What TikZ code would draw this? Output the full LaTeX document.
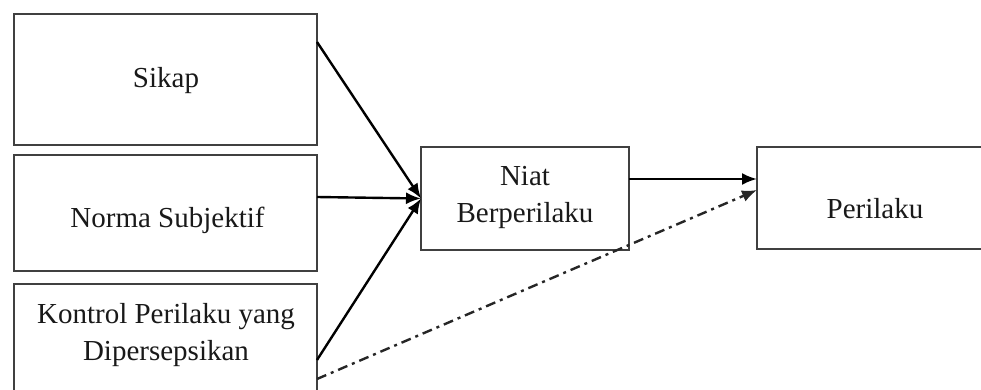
\documentclass[tikz,border=0pt]{standalone}
\usepackage{fontspec}
\setmainfont{Liberation Serif}
\usetikzlibrary{arrows.meta}
\begin{document}
\begin{tikzpicture}[x=1pt,y=-1pt,
  box/.style={draw=black!75,line width=2.8pt,outer sep=0pt,inner sep=0pt},
  lbl/.style={font=\fontsize{29}{37}\selectfont,text=black!90,align=center,inner sep=0pt},
  conn/.style={draw=black,line width=2.4pt,-{Latex[length=15pt,width=12pt]}},
  dashdot/.style={conn,draw=black!85,dash pattern=on 10pt off 5pt on 3pt off 5pt}]
\useasboundingbox (0,0) rectangle (981,390);
\clip (0,0) rectangle (981,390);
\node[box,minimum width=303pt,minimum height=131pt] (sikap) at (165.5,79.5) {};
\node[box,minimum width=303pt,minimum height=116pt] (norma) at (165.5,213) {};
\node[box,minimum width=303pt,minimum height=146pt] (kontrol) at (165.5,357) {};
\node[box,minimum width=208pt,minimum height=103pt] (niat) at (525,198.5) {};
\node[box,minimum width=293pt,minimum height=102pt] (perilaku) at (903.5,198) {};
\node[lbl,anchor=base] (tsikap) at (166,88) {Sikap};
\node[lbl,anchor=base] (tnorma) at (167.5,227) {Norma Subjektif};
\node[lbl,anchor=base] (tkontrol) at (166,360) {Kontrol Perilaku yang\\Dipersepsikan};
\node[lbl,anchor=base] (tniat) at (525,222) {Niat\\Berperilaku};
\node[lbl,anchor=base] (tperilaku) at (875,218) {Perilaku};
\draw[conn] ([yshift=-28pt]sikap.north east) -- (niat.west);
\draw[conn] ([yshift=16pt]norma.east) -- (niat.west);
\draw[conn] ([yshift=-76pt]kontrol.north east) -- (niat.west);
\draw[conn] ([yshift=19.5pt]niat.east) -- ([yshift=19pt]perilaku.west);
\draw[dashdot] ([yshift=-95pt]kontrol.north east) -- ([yshift=8pt]perilaku.west);
\end{tikzpicture}
\end{document}
